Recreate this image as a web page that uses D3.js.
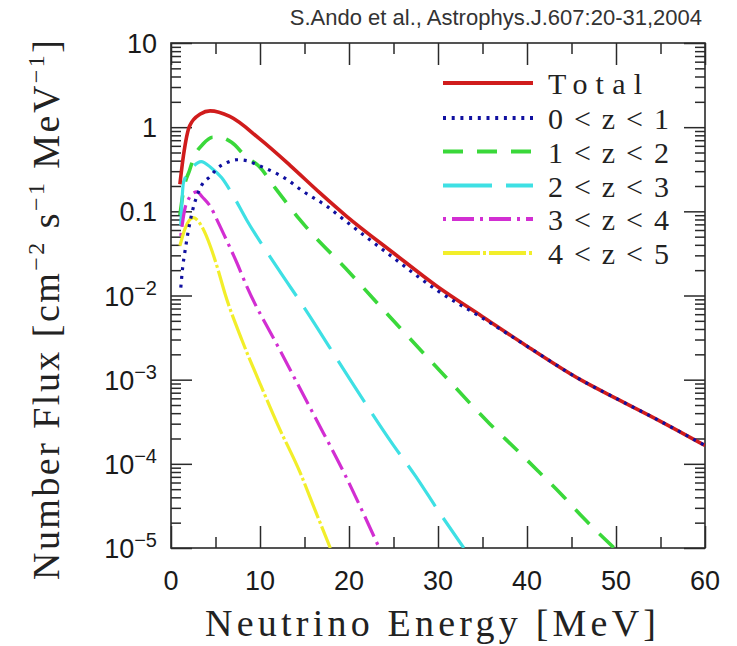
<!DOCTYPE html>
<html>
<head>
<meta charset="utf-8">
<script src="https://cdn.jsdelivr.net/npm/d3@7"></script>
<style>
  html, body { margin: 0; padding: 0; background: #fff; }
  svg { display: block; }
</style>
</head>
<body>
<svg id="chart" width="737" height="646"></svg>
<script>
// Relic supernova neutrino flux, total and split by redshift bin
const seriesNames = ["Total", "0<z<1", "1<z<2", "2<z<3", "3<z<4", "4<z<5"];

const totalE    = [1.0, 1.4, 2.1, 3.3, 4.4, 6.6, 10, 13.4, 16.7, 19.7, 25, 30, 35, 40, 46, 50, 55, 60];
const totalFlux = [0.21, 0.46, 1.04, 1.43, 1.56, 1.34, 0.72, 0.35, 0.167, 0.088, 0.032, 0.0126, 0.0056, 0.0025, 0.0010, 6.0e-4, 3.2e-4, 1.65e-4];

const z01E    = [1.1, 1.3, 1.6, 1.95, 2.4, 3.4, 4.4, 5.3, 6.3, 7.4, 8.5, 9.6, 10.75, 11.9, 13, 14.8, 17.5, 19.6, 25, 30, 35, 40, 46, 50, 55, 60];
const z01Flux = [0.0124, 0.021, 0.035, 0.059, 0.10, 0.20, 0.26, 0.33, 0.38, 0.41, 0.40, 0.36, 0.32, 0.28, 0.24, 0.174, 0.115, 0.077, 0.028, 0.0113, 0.0054, 0.0025, 0.0010, 6.0e-4, 3.2e-4, 1.65e-4];

const z12E    = [1.0, 1.5, 2.1, 2.5, 3.6, 4.7, 5.5, 6.8, 8.5, 9.8, 11.7, 14.5, 20, 25, 30, 35.8, 38.8, 41.3, 43.9, 46.3, 49.8];
const z12Flux = [0.09, 0.2, 0.31, 0.42, 0.63, 0.76, 0.76, 0.66, 0.44, 0.35, 0.19, 0.079, 0.019, 0.005, 0.00135, 3.0e-4, 1.48e-4, 8.1e-5, 4.3e-5, 2.3e-5, 1.0e-5];

const z23E    = [1.1, 1.4, 2.3, 3.4, 4.5, 5.7, 6.8, 8.5, 12, 15, 20, 25, 27.5, 30, 32.9];
const z23Flux = [0.068, 0.22, 0.32, 0.39, 0.33, 0.25, 0.166, 0.079, 0.021, 0.0071, 0.00105, 1.66e-4, 7.1e-5, 2.8e-5, 1.0e-5];

const z34E    = [1.1, 1.5, 2.06, 2.5, 2.9, 3.6, 4.4, 5.3, 6.26, 7.4, 8.5, 12, 16, 19.5, 23.4];
const z34Flux = [0.051, 0.10, 0.145, 0.165, 0.17, 0.145, 0.115, 0.074, 0.045, 0.0245, 0.0129, 0.0025, 3.9e-4, 7.6e-5, 1.0e-5];

const z45E    = [1.0, 1.57, 2.5, 3.6, 4.4, 5.3, 6.07, 8, 10, 12, 14.5, 16.2, 17.9];
const z45Flux = [0.039, 0.062, 0.084, 0.062, 0.039, 0.020, 0.0105, 0.0029, 9.0e-4, 2.9e-4, 7.9e-5, 2.8e-5, 1.0e-5];

const xMajorTicks = [0, 10, 20, 30, 40, 50, 60];
const xMinorTicks = [5, 15, 25, 35, 45, 55];
const yMajorTicks = [1e-5, 1e-4, 1e-3, 1e-2, 0.1, 1, 10];
// tick labels: [base, exponent] (exponent empty for plain numbers)
const yTickLabels = [["10", "−5"], ["10", "−4"], ["10", "−3"], ["10", "−2"], ["0.1", ""], ["1", ""], ["10", ""]];

const citation = "S.Ando et al., Astrophys.J.607:20-31,2004";
const xTitle = "Neutrino Energy [MeV]";

const seriesE = [totalE, z01E, z12E, z23E, z34E, z45E];
const seriesFlux = [totalFlux, z01Flux, z12Flux, z23Flux, z34Flux, z45Flux];

const styles = [
  { color: "#d01c1c", width: 3.6, dash: null },
  { color: "#1010a0", width: 3.2, dash: "3,5.7" },
  { color: "#3ad83a", width: 3.6, dash: "20,14" },
  { color: "#3ee0e4", width: 3.2, dash: "49,14" },
  { color: "#d22ed2", width: 3.2, dash: "3,6,22,6" },
  { color: "#f2ee2a", width: 3.2, dash: "37,3,3,3" }
];

const svg = d3.select("#chart");
const plotLeft = 171, plotRight = 705, plotTop = 43, plotBottom = 548;

const x = d3.scaleLinear().domain([0, 60]).range([plotLeft, plotRight]);
const y = d3.scaleLog().domain([1e-5, 10]).range([plotBottom, plotTop]);

const yMinorTicks = [];
for (let d = -5; d < 1; d++) {
  for (let m = 2; m <= 9; m++) yMinorTicks.push(m * Math.pow(10, d));
}

const axisColor = "#2a2a2a";

function styleAxis(g) {
  g.select(".domain").remove();
  g.selectAll(".tick line").attr("stroke", axisColor).attr("stroke-width", 1.5);
  g.selectAll(".tick text").remove();
}

// ticks on all four sides, pointing inward
svg.append("g").attr("transform", `translate(0,${plotBottom})`)
  .call(d3.axisBottom(x).tickValues(xMajorTicks).tickSize(-22)).call(styleAxis);
svg.append("g").attr("transform", `translate(0,${plotBottom})`)
  .call(d3.axisBottom(x).tickValues(xMinorTicks).tickSize(-11)).call(styleAxis);
svg.append("g").attr("transform", `translate(0,${plotTop})`)
  .call(d3.axisTop(x).tickValues(xMajorTicks).tickSize(-22)).call(styleAxis);
svg.append("g").attr("transform", `translate(0,${plotTop})`)
  .call(d3.axisTop(x).tickValues(xMinorTicks).tickSize(-11)).call(styleAxis);
svg.append("g").attr("transform", `translate(${plotLeft},0)`)
  .call(d3.axisLeft(y).tickValues(yMajorTicks).tickSize(-21)).call(styleAxis);
svg.append("g").attr("transform", `translate(${plotLeft},0)`)
  .call(d3.axisLeft(y).tickValues(yMinorTicks).tickSize(-10)).call(styleAxis);
svg.append("g").attr("transform", `translate(${plotRight},0)`)
  .call(d3.axisRight(y).tickValues(yMajorTicks).tickSize(-21)).call(styleAxis);
svg.append("g").attr("transform", `translate(${plotRight},0)`)
  .call(d3.axisRight(y).tickValues(yMinorTicks).tickSize(-10)).call(styleAxis);

// frame
svg.append("rect")
  .attr("x", plotLeft).attr("y", plotTop)
  .attr("width", plotRight - plotLeft).attr("height", plotBottom - plotTop)
  .attr("fill", "none").attr("stroke", axisColor).attr("stroke-width", 1.6);

// x tick labels
svg.append("g").selectAll("text").data(xMajorTicks).join("text")
  .attr("x", d => x(d)).attr("y", plotBottom + 42)
  .attr("text-anchor", "middle")
  .attr("font-family", "Liberation Sans, Arial, sans-serif")
  .attr("font-size", 27).attr("fill", "#1a1a1a")
  .text(d => d);

// y tick labels with superscripted exponents
const yl = svg.append("g").selectAll("text").data(yMajorTicks).join("text")
  .attr("x", 157).attr("y", d => y(d) + 10)
  .attr("text-anchor", "end")
  .attr("font-family", "Liberation Sans, Arial, sans-serif")
  .attr("font-size", 27).attr("fill", "#1a1a1a");
yl.each(function(d, i) {
  const [base, exp] = yTickLabels[i];
  const t = d3.select(this);
  t.append("tspan").text(base);
  if (exp) t.append("tspan").attr("font-size", 20).attr("dy", -11).text(exp);
});

// axis titles
svg.append("text")
  .attr("x", (205 + 656) / 2).attr("y", 636)
  .attr("text-anchor", "middle")
  .attr("font-family", "Liberation Serif, Times New Roman, serif")
  .attr("font-size", 38).attr("fill", "#222")
  .attr("textLength", 451).attr("lengthAdjust", "spacing")
  .text(xTitle);

const yTitle = svg.append("text")
  .attr("transform", "translate(59,310) rotate(-90)")
  .attr("text-anchor", "middle")
  .attr("font-family", "Liberation Serif, Times New Roman, serif")
  .attr("font-size", 38).attr("fill", "#222")
  .attr("textLength", 540).attr("lengthAdjust", "spacing");
const yTitleParts = [["Number Flux [cm", false], ["−2", true], [" s", false], ["−1", true], [" MeV", false], ["−1", true], ["]", false]];
let raised = false;
yTitleParts.forEach(([txt, sup]) => {
  const ts = yTitle.append("tspan").text(txt);
  if (sup) { ts.attr("font-size", 24).attr("dy", raised ? 0 : -15); raised = true; }
  else { if (raised) ts.attr("dy", 15); raised = false; }
});

// citation
svg.append("text")
  .attr("x", 702).attr("y", 25)
  .attr("text-anchor", "end")
  .attr("font-family", "Liberation Sans, Arial, sans-serif")
  .attr("font-size", 22).attr("fill", "#333")
  .text(citation);

// curves
svg.append("clipPath").attr("id", "plot-clip")
  .append("rect").attr("x", plotLeft).attr("y", plotTop)
  .attr("width", plotRight - plotLeft).attr("height", plotBottom - plotTop);

const line = d3.line()
  .x(d => x(d[0]))
  .y(d => y(d[1]))
  .curve(d3.curveMonotoneX);

const curves = svg.append("g").attr("clip-path", "url(#plot-clip)");
// redshift bins under the total, 0<z<1 dots last so they stay visible on the red line
const drawOrder = [2, 3, 4, 5, 0, 1];
drawOrder.forEach(i => {
  const pts = seriesE[i].map((e, k) => [e, seriesFlux[i][k]]);
  curves.append("path")
    .attr("d", line(pts))
    .attr("fill", "none")
    .attr("stroke", styles[i].color)
    .attr("stroke-width", styles[i].width)
    .attr("stroke-dasharray", styles[i].dash)
    .attr("stroke-linejoin", "round");
});

// legend
const legendX0 = 443, legendX1 = 533, legendTextX = 548;
const legendY = [83, 118, 151.5, 185.5, 219, 253];
const legendTextLen = [94, 121, 121, 121, 121, 121];
const lg = svg.append("g");
seriesNames.forEach((name, i) => {
  lg.append("line")
    .attr("x1", legendX0).attr("x2", legendX1)
    .attr("y1", legendY[i]).attr("y2", legendY[i])
    .attr("stroke", styles[i].color)
    .attr("stroke-width", styles[i].width + 0.6)
    .attr("stroke-dasharray", styles[i].dash);
  lg.append("text")
    .attr("x", legendTextX).attr("y", legendY[i] + 11)
    .attr("font-family", "Liberation Serif, Times New Roman, serif")
    .attr("font-size", 30).attr("fill", "#222")
    .attr("textLength", legendTextLen[i]).attr("lengthAdjust", "spacing")
    .text(name);
});
</script>
</body>
</html>
